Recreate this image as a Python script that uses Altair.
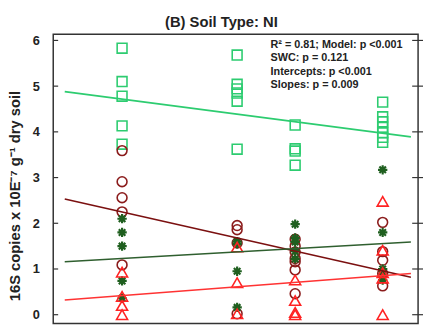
import altair as alt
import pandas as pd

# ---- data ----
swc_groups = [7.0, 18.7, 24.6, 33.5]

squares = [
    [5.83, 5.10, 4.78, 4.13, 3.73],
    [5.68, 5.04, 4.94, 4.85, 4.67, 3.62],
    [4.15, 3.63, 3.58, 3.27],
    [4.65, 4.33, 4.22, 4.10, 3.98, 3.88, 3.77],
]
circles = [
    [3.59, 2.91, 2.56, 2.25, 1.09],
    [1.95, 1.86, 1.57, 0.02],
    [1.65, 1.50, 1.37, 1.23, 1.16, 0.98, 0.46],
    [2.02, 1.38, 1.19, 0.90, 0.63],
]
asterisks = [
    [2.10, 1.80, 1.50, 0.74, 0.36],
    [1.60, 1.55, 0.95, 0.16],
    [1.98, 1.68, 1.59, 1.39, 1.22],
    [3.17, 1.80, 1.00, 0.88, 0.76],
]
triangles = [
    [0.93, 0.40, 0.20, 0.00],
    [1.48, 0.70, 0.02],
    [0.76, 0.31, 0.05, 0.00],
    [2.48, 1.41, 0.92, 0.80, 0.00],
]

line_x = [1.17, 36.37]
line_square = [4.88, 3.89]
line_circle = [2.53, 0.82]
line_asterisk = [1.16, 1.59]
line_triangle = [0.32, 0.90]

y_ticks = [0, 1, 2, 3, 4, 5, 6]

stats_text = "R\u00b2 = 0.81; Model: p <0.001\nSWC: p = 0.121\nIntercepts: p <0.001\nSlopes: p = 0.009"
title_text = "(B) Soil Type: NI"
y_title = "16S copies x 10E\u207b\u2077 g\u207b\u00b9 dry soil"

# ---- build tables ----
def points(groups):
    rows = []
    for gx, vals in zip(swc_groups, groups):
        for v in vals:
            rows.append({"swc": gx, "copies": v})
    return pd.DataFrame(rows)

def line(vals):
    return pd.DataFrame({"swc": line_x, "copies": vals})

xs = alt.Scale(domain=[0, 37.1], nice=False, zero=False)
ys = alt.Scale(domain=[-0.19, 6.135], nice=False, zero=False)

X = alt.X("swc:Q", scale=xs, axis=None)
Y = alt.Y("copies:Q", scale=ys,
          axis=alt.Axis(values=y_ticks, title=y_title, grid=False, domain=False,
                        ticks=False, tickSize=0, labelPadding=14,
                        labelFontSize=13, labelFontWeight="bold", labelColor="#222",
                        titleFontSize=15, titleFontWeight="bold", titleColor="#222",
                        titleBaseline="alphabetic", titleAlign="center",
                        titleX=-34, titleY=164))

GREEN = "#2dcc70"
DRED = "#8b1c1c"
DGREEN = "#1f5f1f"
RED = "#ff2222"

asterisk_path = "M-1,0L1,0M0,-1L0,1M-0.7,-0.7L0.7,0.7M-0.7,0.7L0.7,-0.7"

sq = alt.Chart(points(squares)).mark_point(shape="square", size=100, filled=False,
                                            strokeWidth=1.6, color=GREEN, opacity=1).encode(x=X, y=Y)
ci = alt.Chart(points(circles)).mark_point(shape="circle", size=100, filled=False,
                                            strokeWidth=1.6, color=DRED, opacity=1).encode(x=X, y=Y)
ast = alt.Chart(points(asterisks)).mark_point(shape=asterisk_path, size=90, filled=False,
                                               strokeWidth=2.2, color=DGREEN, opacity=1).encode(x=X, y=Y)
tr = alt.Chart(points(triangles)).mark_point(shape="triangle-up", size=125, filled=False,
                                              strokeWidth=1.6, color=RED, opacity=1).encode(x=X, y=Y)

l1 = alt.Chart(line(line_square)).mark_line(color=GREEN, strokeWidth=1.6).encode(x=X, y=Y)
l2 = alt.Chart(line(line_circle)).mark_line(color="#7b1010", strokeWidth=1.6).encode(x=X, y=Y)
l3 = alt.Chart(line(line_asterisk)).mark_line(color="#2f5f2f", strokeWidth=1.6).encode(x=X, y=Y)
l4 = alt.Chart(line(line_triangle)).mark_line(color="#ff3333", strokeWidth=1.6).encode(x=X, y=Y)

tick_df = pd.DataFrame({"copies": y_ticks})
lticks = alt.Chart(tick_df).mark_rule(color="#333", strokeWidth=1.2).encode(
    y=alt.Y("copies:Q", scale=ys), x=alt.value(0), x2=alt.value(5))
rticks = alt.Chart(tick_df).mark_rule(color="#333", strokeWidth=1.2).encode(
    y=alt.Y("copies:Q", scale=ys), x=alt.value(365), x2=alt.value(376))

stats = alt.Chart(pd.DataFrame({"t": [stats_text]})).mark_text(
    align="left", baseline="alphabetic", lineBreak="\n", lineHeight=13.6,
    fontSize=11, fontWeight="bold", color="#222").encode(
    x=alt.value(221), y=alt.value(14), text="t:N")

title = alt.Chart(pd.DataFrame({"t": [title_text]})).mark_text(
    align="center", baseline="alphabetic", fontSize=15, fontWeight="bold",
    color="#222").encode(x=alt.value(171), y=alt.value(-7), text="t:N")

chart = alt.layer(sq, ci, ast, tr, l1, l2, l3, l4, lticks, rticks, stats, title).properties(
    width=371, height=294,
    padding={"left": 46, "top": 24, "right": 5, "bottom": 3},
    autosize="none",
).configure(font="Liberation Sans").configure_view(stroke="#333", strokeWidth=1.5)

chart.save("out.html", embed_options={"renderer": "svg", "actions": False})
